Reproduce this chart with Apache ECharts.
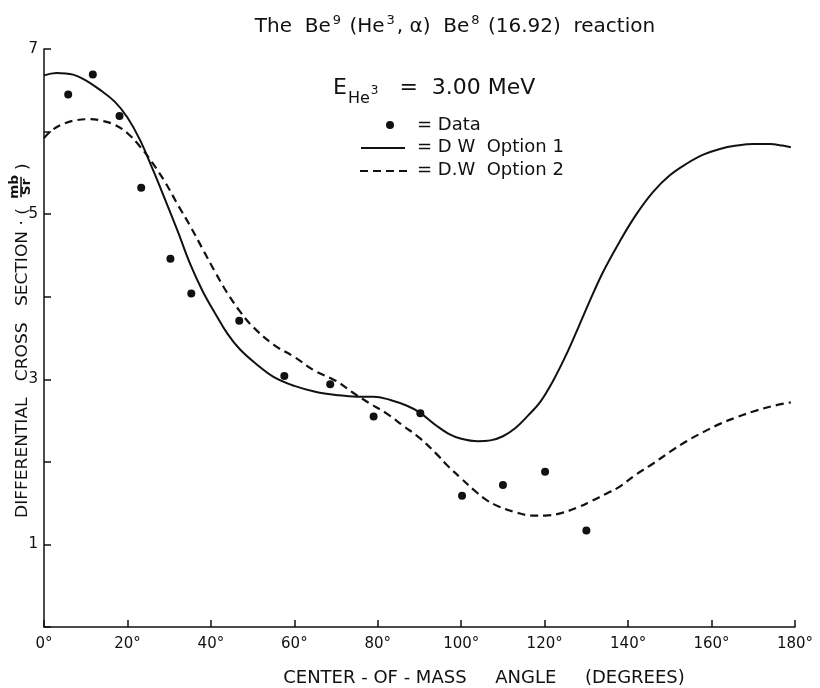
<!DOCTYPE html>
<html>
<head>
<meta charset="utf-8">
<script src="https://cdn.jsdelivr.net/npm/echarts@6/dist/echarts.min.js"></script>
<style>
html,body{margin:0;padding:0;background:#fff;}
#chart{width:820px;height:688px;}
</style>
</head>
<body>
<div id="chart"></div>
<script>
// ---- Data ----
const dataAngles = [5.8, 11.7, 18.1, 23.3, 30.3, 35.3, 46.8, 57.6, 68.6, 79.0, 90.2, 100.2, 110.0, 120.1, 130.0];
const dataValues = [6.45, 6.69, 6.19, 5.32, 4.46, 4.04, 3.71, 3.04, 2.94, 2.55, 2.59, 1.59, 1.72, 1.88, 1.17];

const opt1Angles = [0, 3, 7, 10, 13, 17, 20, 23, 26, 29, 32, 35, 38, 41, 44, 47, 51, 55, 60, 65, 70, 75, 79, 83, 87, 90, 94, 97, 100, 104, 107, 110, 113, 116, 119, 122, 125, 128, 131, 134, 138, 142, 146, 150, 154, 158, 162, 166, 170, 174, 177, 179];
const opt1Values = [6.68, 6.71, 6.69, 6.62, 6.52, 6.36, 6.17, 5.90, 5.55, 5.18, 4.80, 4.40, 4.07, 3.80, 3.55, 3.36, 3.18, 3.03, 2.92, 2.85, 2.81, 2.79, 2.79, 2.75, 2.68, 2.60, 2.44, 2.34, 2.28, 2.25, 2.26, 2.31, 2.41, 2.56, 2.73, 2.98, 3.28, 3.62, 3.97, 4.30, 4.67, 5.00, 5.27, 5.47, 5.61, 5.72, 5.79, 5.83, 5.85, 5.85, 5.83, 5.81];

const opt2Angles = [0, 2, 5, 8, 11, 14, 17, 20, 23, 26, 29, 32, 35, 38, 41, 44, 47, 50, 55, 60, 65, 70, 74, 78, 82, 86, 90, 94, 97, 100, 103, 106, 109, 113, 117, 120, 124, 128, 131, 135, 138, 142, 146, 150, 154, 158, 162, 166, 170, 175, 179];
const opt2Values = [5.92, 6.02, 6.10, 6.14, 6.15, 6.13, 6.08, 5.98, 5.82, 5.62, 5.39, 5.12, 4.86, 4.58, 4.30, 4.04, 3.82, 3.64, 3.42, 3.27, 3.10, 2.98, 2.84, 2.71, 2.59, 2.44, 2.29, 2.10, 1.94, 1.80, 1.66, 1.54, 1.46, 1.39, 1.35, 1.35, 1.38, 1.45, 1.52, 1.62, 1.70, 1.85, 1.98, 2.12, 2.25, 2.36, 2.46, 2.54, 2.61, 2.68, 2.72];

const xTicks = [0, 20, 40, 60, 80, 100, 120, 140, 160, 180];
const yLabelTicks = [1, 3, 5, 7];

const FONT = 'DejaVu Sans';

function pairs(xs, ys) { return xs.map((x, i) => [x, ys[i]]); }

// measure text
const ctx = document.createElement('canvas').getContext('2d');
function measure(txt, font) { ctx.font = font; return ctx.measureText(txt).width; }

const chart = echarts.init(document.getElementById('chart'), null, {renderer: 'canvas'});

// y-axis title as rotated group
const yMain = 'DIFFERENTIAL   CROSS   SECTION · (';
const yFont = '15px "' + FONT + '"';
const yMainW = measure(yMain, yFont);
const yStretch = 310 / yMainW;
const fracX = (518 - 187) / yStretch;
const closeX = (518 - 170) / yStretch;

const option = {
  backgroundColor: '#fff',
  animation: false,
  grid: {left: 44, right: 25, top: 49, bottom: 61, containLabel: false},
  xAxis: {
    type: 'value', min: 0, max: 180, interval: 20,
    axisLine: {show: true, lineStyle: {color: '#111', width: 1.5}},
    axisTick: {show: true, inside: true, length: 7, lineStyle: {color: '#111', width: 1.5}},
    axisLabel: {color: '#111', fontSize: 15, fontFamily: FONT, margin: 10,
      formatter: v => xTicks.includes(v) ? v + '°' : ''},
    splitLine: {show: false}
  },
  yAxis: {
    type: 'value', min: 0, max: 7, interval: 1,
    axisLine: {show: true, lineStyle: {color: '#111', width: 1.5}},
    axisTick: {show: true, inside: true, length: 7, lineStyle: {color: '#111', width: 1.5}},
    axisLabel: {color: '#111', fontSize: 15, fontFamily: FONT, margin: 6,
      formatter: v => yLabelTicks.includes(v) ? String(v) : ''},
    splitLine: {show: false}
  },
  series: [
    {
      name: 'Data', type: 'scatter', data: pairs(dataAngles, dataValues),
      symbol: 'circle', symbolSize: 8, itemStyle: {color: '#111', opacity: 1}, z: 5
    },
    {
      name: 'D W Option 1', type: 'line', data: pairs(opt1Angles, opt1Values),
      smooth: 0.4, showSymbol: false, lineStyle: {color: '#111', width: 2}
    },
    {
      name: 'D.W Option 2', type: 'line', data: pairs(opt2Angles, opt2Values),
      smooth: 0.4, showSymbol: false, lineStyle: {color: '#111', width: 2.2, type: [8, 5]}
    }
  ],
  graphic: [
    {
      type: 'text', position: [455, 27],
      style: {
        text: 'The  Be{sup|9} (He{sup|3}, α)  Be{sup|8} (16.92)  reaction',
        font: '20px "' + FONT + '"', fill: '#111', textAlign: 'center', textVerticalAlign: 'middle',
        rich: {sup: {fontSize: 13, fontFamily: FONT, fill: '#111', padding: [0, 2, 12, 2]}}
      }
    },
    {
      type: 'text', position: [333, 69],
      style: {
        text: 'E{sub|He}{subsup|3}   =  3.00 MeV',
        font: '22px "' + FONT + '"', fill: '#111',
        rich: {
          sub: {fontSize: 16, fontFamily: FONT, fill: '#111', padding: [22, 0, 0, 1]},
          subsup: {fontSize: 12, fontFamily: FONT, fill: '#111', padding: [6, 0, 0, 1]}
        }
      }
    },
    // legend
    {type: 'circle', shape: {cx: 390, cy: 125, r: 4}, style: {fill: '#111'}},
    {type: 'text', position: [417, 125], style: {text: '= Data', font: '18px "' + FONT + '"', fill: '#111', textVerticalAlign: 'middle'}},
    {type: 'line', shape: {x1: 361, y1: 148, x2: 405, y2: 148}, style: {stroke: '#111', lineWidth: 2}},
    {type: 'text', position: [417, 147], style: {text: '= D W  Option 1', font: '18px "' + FONT + '"', fill: '#111', textVerticalAlign: 'middle'}},
    {type: 'line', shape: {x1: 360, y1: 171, x2: 407, y2: 171}, style: {stroke: '#111', lineWidth: 2, lineDash: [8, 5]}},
    {type: 'text', position: [417, 170], style: {text: '= D.W  Option 2', font: '18px "' + FONT + '"', fill: '#111', textVerticalAlign: 'middle'}},
    // x-axis title
    {type: 'text', position: [484, 678],
      style: {text: 'CENTER - OF - MASS     ANGLE     (DEGREES)', font: '18px "' + FONT + '"', fill: '#111', textAlign: 'center', textVerticalAlign: 'middle'}},
    // y-axis title rotated
    {
      type: 'group', position: [23, 518], rotation: Math.PI / 2, scaleX: yStretch,
      children: [
        {type: 'text', position: [0, 0], style: {text: yMain, font: yFont, fill: '#111', textAlign: 'left', textVerticalAlign: 'middle'}},
        {type: 'text', position: [fracX, -8], style: {text: 'mb', font: 'bold 12px "' + FONT + '"', fill: '#111', textAlign: 'center', textVerticalAlign: 'middle'}},
        {type: 'line', shape: {x1: fracX - 9, y1: -2, x2: fracX + 9, y2: -2}, style: {stroke: '#111', lineWidth: 1.5}},
        {type: 'text', position: [fracX, 4], style: {text: 'Sr', font: 'bold 12px "' + FONT + '"', fill: '#111', textAlign: 'center', textVerticalAlign: 'middle'}},
        {type: 'text', position: [closeX, 0], style: {text: ')', font: yFont, fill: '#111', textAlign: 'left', textVerticalAlign: 'middle'}}
      ]
    }
  ]
};
chart.setOption(option);
</script>
</body>
</html>
